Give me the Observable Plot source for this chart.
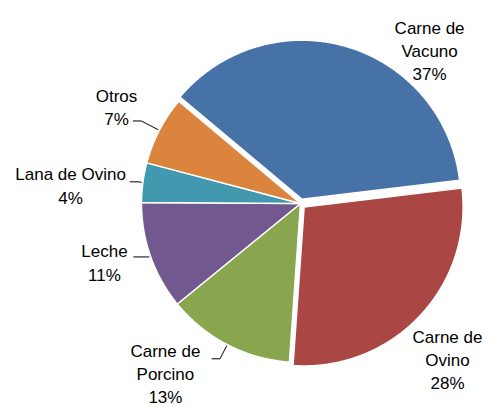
<!DOCTYPE html>
<html>
<head>
<meta charset="utf-8">
<script src="https://cdn.jsdelivr.net/npm/d3@7"></script>
<script src="https://cdn.jsdelivr.net/npm/@observablehq/plot@0.6"></script>
<style>
  html, body { margin: 0; padding: 0; background: #fff; }
  #chart svg { display: block; }
</style>
</head>
<body>
<div id="chart"></div>
<script>
// ---- data ----
const categories = ["Carne de Vacuno", "Carne de Ovino", "Carne de Porcino", "Leche", "Lana de Ovino", "Otros"];
const values = [37, 28, 13, 11, 4, 7];
const colors = ["#4672A7", "#AA4643", "#89A54E", "#71588F", "#4198AF", "#DB843D"];

// ---- layout ----
const W = 488, H = 407;
const CX = 300, CY = 203, R = 159;          // pie centre (px) and radius (px)
const firstSliceDeg = -50;                   // angle of first slice (clockwise from 12 o'clock)
const explodePx = { "Carne de Vacuno": 4.5, "Carne de Ovino": 5 };
// label placement: angle (deg, clockwise from top) and radius (in pie radii) of label centre
const labelLayout = {
  "Carne de Vacuno": { angle: 40, r: 1.263 },
  "Carne de Ovino": { angle: 136.5, r: 1.343 },
  "Carne de Porcino": { angle: 218.6, r: 1.362 },
  "Leche": { angle: 253.5, r: 1.286 },
  "Lana de Ovino": { angle: 274.7, r: 1.451 },
  "Otros": { angle: 297.8, r: 1.308 }
};
// leader lines: elbow radius and horizontal run (px) toward the label
const leaderLayout = {
  "Otros": { elbow: 1.128, run: 8 },
  "Lana de Ovino": { elbow: 1.03, run: 8 },
  "Leche": { elbow: 1.012, run: 15 },
  "Carne de Porcino": { elbow: 1.10, run: 8 }
};

const rows = categories.map((name, i) => ({ name, value: values[i] }));
const a0 = firstSliceDeg * Math.PI / 180;
const arcs = d3.pie().sort(null).value(d => d.value).startAngle(a0).endAngle(a0 + 2 * Math.PI)(rows);
const deg = Math.PI / 180;

const slicePts = [];
const labelRows = [];
const leaderPts = [];
arcs.forEach(a => {
  const name = a.data.name;
  const mid = (a.startAngle + a.endAngle) / 2;
  const off = (explodePx[name] || 0) / R;
  const ox = off * Math.sin(mid), oy = off * Math.cos(mid);
  slicePts.push({ name, x: ox, y: oy });
  const n = Math.max(2, Math.ceil((a.endAngle - a.startAngle) / (0.5 * deg)));
  for (let i = 0; i <= n; i++) {
    const t = a.startAngle + (a.endAngle - a.startAngle) * i / n;
    slicePts.push({ name, x: ox + Math.sin(t), y: oy + Math.cos(t) });
  }
  const L = labelLayout[name];
  const text = name.replace("Carne de ", "Carne de\n") + "\n" + a.data.value + "%";
  labelRows.push({ name, text, x: L.r * Math.sin(L.angle * deg), y: L.r * Math.cos(L.angle * deg) });
  const ld = leaderLayout[name];
  if (ld) {
    const ex = ld.elbow * Math.sin(mid), ey = ld.elbow * Math.cos(mid);
    leaderPts.push({ name, x: ex - ld.run / R, y: ey });
    leaderPts.push({ name, x: ex, y: ey });
    leaderPts.push({ name, x: 1.01 * Math.sin(mid), y: 1.01 * Math.cos(mid) });
  }
});

const chart = Plot.plot({
  width: W,
  height: H,
  margin: 0,
  x: { domain: [-CX / R, (W - CX) / R], axis: null },
  y: { domain: [-(H - CY) / R, CY / R], axis: null },
  color: { domain: categories, range: colors },
  style: { fontFamily: "'Liberation Sans', Arial, sans-serif", background: "#fff" },
  marks: [
    Plot.line(slicePts, { x: "x", y: "y", z: "name", fill: "name", stroke: "white", strokeWidth: 1.5, curve: "linear-closed" }),
    Plot.line(leaderPts, { x: "x", y: "y", z: "name", stroke: "black", strokeWidth: 1 }),
    Plot.text(labelRows, { x: "x", y: "y", text: "text", fontSize: 17, lineHeight: 1.36, lineAnchor: "middle", textAnchor: "middle", fill: "black" })
  ]
});
document.getElementById("chart").appendChild(chart);
</script>
</body>
</html>
